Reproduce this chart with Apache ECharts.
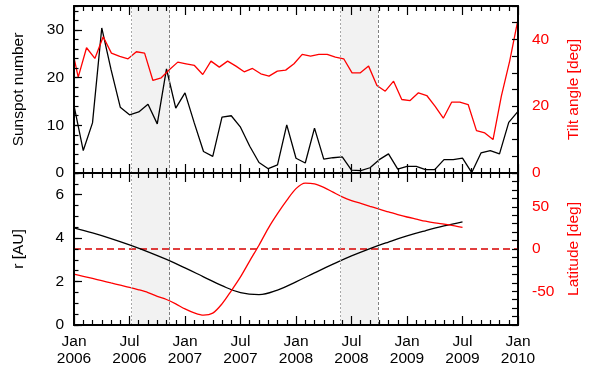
<!DOCTYPE html>
<html>
<head>
<meta charset="utf-8">
<script src="https://cdn.jsdelivr.net/npm/echarts@6/dist/echarts.min.js"></script>
<style>
  html, body { margin: 0; padding: 0; background: #ffffff; }
  #chart { width: 590px; height: 367px; }
</style>
</head>
<body>
<div id="chart"></div>
<script>
// ---- Data -------------------------------------------------------------
// Monthly sunspot number, Jan 2006 .. Jan 2010 (one value per month)
const sunspotStartYear = 2006;
const sunspot = [
  14.1, 4.7, 10.5, 30.4, 21.7, 13.8, 12.2, 12.8, 14.4, 10.3, 21.8, 13.6,
  16.8, 10.5, 4.5, 3.5, 11.7, 12.0, 9.6, 5.6, 2.2, 0.9, 1.7, 10.1,
  3.1, 2.1, 9.4, 2.9, 3.2, 3.4, 0.6, 0.5, 1.1, 2.8, 4.0, 0.8,
  1.4, 1.4, 0.7, 0.7, 2.8, 2.8, 3.1, 0.1, 4.2, 4.7, 4.0, 10.6,
  12.9
];

// Heliospheric current sheet tilt angle per Carrington rotation (decimal year, deg)
const tiltTime = [
  2005.964, 2006.038, 2006.113, 2006.188, 2006.263, 2006.337, 2006.412, 2006.487,
  2006.562, 2006.636, 2006.711, 2006.786, 2006.861, 2006.935, 2007.010, 2007.085,
  2007.160, 2007.234, 2007.309, 2007.384, 2007.459, 2007.533, 2007.608, 2007.683,
  2007.757, 2007.832, 2007.907, 2007.982, 2008.056, 2008.131, 2008.206, 2008.281,
  2008.355, 2008.430, 2008.505, 2008.580, 2008.654, 2008.729, 2008.804, 2008.879,
  2008.953, 2009.028, 2009.103, 2009.178, 2009.252, 2009.327, 2009.402, 2009.476,
  2009.551, 2009.626, 2009.701, 2009.775, 2009.850, 2009.925, 2010.000
];
const tiltDeg = [
  40.0, 28.7, 37.5, 34.3, 40.8, 35.9, 34.9, 34.2,
  36.3, 35.9, 27.7, 28.5, 31.0, 33.2, 32.7, 32.2,
  29.5, 33.5, 31.7, 33.5, 32.0, 30.3, 31.3, 29.7,
  29.0, 30.5, 30.8, 32.7, 35.5, 35.0, 35.5, 35.5,
  34.7, 34.2, 30.0, 30.0, 32.0, 26.2, 24.5, 27.5,
  22.0, 21.7, 24.0, 23.2, 20.0, 16.4, 21.2, 21.2,
  20.5, 12.7, 12.0, 10.0, 23.0, 33.5, 46.0
];

// Ulysses heliocentric distance, every second month from Jan 2006 (AU)
const rMonth = [0, 2, 4, 6, 8, 10, 12, 14, 16, 18, 20, 22, 24, 26, 28, 30, 32, 34, 36, 38, 40, 42];
const rAU = [4.47, 4.24, 3.98, 3.69, 3.37, 3.02, 2.63, 2.22, 1.81, 1.49, 1.40,
             1.61, 1.99, 2.40, 2.80, 3.18, 3.52, 3.82, 4.10, 4.34, 4.56, 4.75];

// Ulysses heliographic latitude, monthly from Jan 2006 (deg)
const latDeg = [
  -29.8, -32.3, -34.9, -37.5, -40.2, -42.8, -45.4, -48.3, -51.6, -56.0, -59.8, -65.0,
  -71.0, -75.7, -78.4, -76.0, -65.0, -49.5, -33.0, -14.0, 4.5, 24.5, 41.8, 57.5,
  71.5, 78.0, 77.0, 72.9, 67.3, 61.8, 57.4, 54.0, 50.5, 47.1, 44.0, 40.8,
  37.9, 35.4, 32.9, 30.9, 29.4, 27.7, 25.7
];

// Shaded intervals (decimal years)
const bands = [[2006.524, 2006.863], [2008.404, 2008.738]];

// ---- Helpers ------------------------------------------------------------
const FONT = '"Liberation Sans", Arial, Helvetica, sans-serif';
const FS = 15.5;
const RED = '#ff0000';
const monthX = (m) => sunspotStartYear + m / 12;

const frameLine = { show: true, onZero: false, lineStyle: { color: '#000', width: 2 } };

function xAxisFor(grid, position, labels) {
  return {
    type: 'value', gridIndex: grid, position: position,
    min: 2006, max: 2010, interval: 0.5, z: 10,
    axisLine: frameLine,
    axisTick: { show: true, inside: true, length: 9, lineStyle: { color: '#000', width: 1.2 } },
    minorTick: { show: true, splitNumber: 6, length: 5, lineStyle: { color: '#000', width: 1.2 } },
    splitLine: { show: false }, minorSplitLine: { show: false },
    axisLabel: labels ? {
      show: true, color: '#000', fontFamily: FONT, fontSize: FS, lineHeight: 17, margin: 8,
      formatter: (v) => {
        const yr = Math.floor(v + 1e-6);
        return ((v - yr) < 0.25 ? 'Jan' : 'Jul') + '\n' + yr;
      }
    } : { show: false }
  };
}

function yAxisFor(opt) {
  return Object.assign({
    type: 'value', z: 10,
    splitLine: { show: false },
    axisLine: { show: false },
  }, opt);
}

const bandAreas = bands.map(b => [{ xAxis: b[0] }, { xAxis: b[1] }]);
const bandEdges = [];
bands.forEach(b => {
  bandEdges.push({ xAxis: b[0], lineStyle: { color: '#a8a8a8', type: [2, 2], width: 1 } });
  bandEdges.push({ xAxis: b[1], lineStyle: { color: '#808080', type: [3, 2], width: 1 } });
});

function bandSeries(xi, yi) {
  return {
    type: 'line', xAxisIndex: xi, yAxisIndex: yi, data: [], silent: true, z: 1,
    markArea: { silent: true, itemStyle: { color: '#f2f2f2' }, data: bandAreas },
    markLine: { silent: true, symbol: 'none', label: { show: false }, data: bandEdges, animation: false }
  };
}

const zeroLineStyle = { color: '#d80000', type: [7, 4], width: 1.4 };

// ---- Chart --------------------------------------------------------------
const chart = echarts.init(document.getElementById('chart'), null, { renderer: 'canvas' });
chart.setOption({
  animation: false,
  backgroundColor: '#ffffff',
  textStyle: { fontFamily: FONT },
  grid: [
    { left: 74, right: 68, top: 6, height: 167 },
    { left: 74, right: 68, top: 173, height: 152 }
  ],
  xAxis: [
    xAxisFor(0, 'bottom', false),
    xAxisFor(0, 'top', false),
    xAxisFor(1, 'bottom', true),
    xAxisFor(1, 'top', false)
  ],
  yAxis: [
    // top panel, left: sunspot number
    yAxisFor({
      gridIndex: 0, position: 'left', min: 0, max: 35, interval: 10,
      axisLine: frameLine,
      axisTick: { show: true, inside: true, length: 8, lineStyle: { color: '#000', width: 1.2 } },
      axisLabel: { show: true, showMaxLabel: false, color: '#000', fontFamily: FONT, fontSize: FS, margin: 10 },
      name: 'Sunspot number', nameLocation: 'middle', nameGap: 47,
      nameTextStyle: { color: '#000', fontFamily: FONT, fontSize: FS }
    }),
    yAxisFor({
      gridIndex: 0, position: 'left', min: 0, max: 35, interval: 2,
      axisTick: { show: true, inside: true, length: 4.5, lineStyle: { color: '#000', width: 1.2 } },
      axisLabel: { show: false }
    }),
    // top panel, right: tilt angle
    yAxisFor({
      gridIndex: 0, position: 'right', min: 0, max: 50, interval: 5,
      axisLine: frameLine,
      axisTick: { show: true, inside: true, length: 6, lineStyle: { color: '#000', width: 1.2 } },
      axisLabel: {
        show: true, color: RED, fontFamily: FONT, fontSize: FS, margin: 14, align: 'left',
        formatter: (v) => (Math.abs(v % 20) < 1e-9 ? String(v) : '')
      },
      name: 'Tilt angle [deg]', nameLocation: 'middle', nameGap: 48,
      nameTextStyle: { color: RED, fontFamily: FONT, fontSize: FS }
    }),
    // bottom panel, left: distance
    yAxisFor({
      gridIndex: 1, position: 'left', min: 0, max: 7, interval: 2,
      axisLine: frameLine,
      axisTick: { show: true, inside: true, length: 8, lineStyle: { color: '#000', width: 1.2 } },
      axisLabel: { show: true, showMaxLabel: false, color: '#000', fontFamily: FONT, fontSize: FS, margin: 10 },
      name: 'r [AU]', nameLocation: 'middle', nameGap: 47,
      nameTextStyle: { color: '#000', fontFamily: FONT, fontSize: FS }
    }),
    yAxisFor({
      gridIndex: 1, position: 'left', min: 0, max: 7, interval: 0.5,
      axisTick: { show: true, inside: true, length: 4.5, lineStyle: { color: '#000', width: 1.2 } },
      axisLabel: { show: false }
    }),
    // bottom panel, right: latitude
    yAxisFor({
      gridIndex: 1, position: 'right', min: -90, max: 90, interval: 10,
      axisLine: frameLine,
      axisTick: { show: true, inside: true, length: 6, lineStyle: { color: '#000', width: 1.2 } },
      axisLabel: {
        show: true, color: RED, fontFamily: FONT, fontSize: FS, margin: 14, align: 'left',
        formatter: (v) => (Math.abs(v % 50) < 1e-9 ? String(v) : '')
      },
      name: 'Latitude [deg]', nameLocation: 'middle', nameGap: 48,
      nameTextStyle: { color: RED, fontFamily: FONT, fontSize: FS }
    })
  ],
  series: [
    bandSeries(0, 0),
    bandSeries(2, 3),
    {
      name: 'Sunspot number', type: 'line', xAxisIndex: 0, yAxisIndex: 0, z: 3,
      showSymbol: false, clip: true,
      lineStyle: { color: '#000', width: 1.3 },
      data: sunspot.map((v, i) => [monthX(i), v])
    },
    {
      name: 'Tilt angle', type: 'line', xAxisIndex: 0, yAxisIndex: 2, z: 4,
      showSymbol: false, clip: true,
      lineStyle: { color: RED, width: 1.3 },
      data: tiltTime.map((t, i) => [t, tiltDeg[i]])
    },
    {
      name: 'r', type: 'line', xAxisIndex: 2, yAxisIndex: 3, z: 3,
      showSymbol: false, smooth: 0.4,
      lineStyle: { color: '#000', width: 1.3 },
      data: rMonth.map((m, i) => [monthX(m), rAU[i]])
    },
    {
      name: 'Latitude', type: 'line', xAxisIndex: 2, yAxisIndex: 5, z: 4,
      showSymbol: false, smooth: 0.3,
      lineStyle: { color: RED, width: 1.3 },
      data: latDeg.map((v, i) => [monthX(i), v])
    },
    {
      // latitude zero reference
      name: 'Equator', type: 'line', xAxisIndex: 2, yAxisIndex: 5, z: 2,
      showSymbol: false, silent: true,
      lineStyle: zeroLineStyle,
      data: [[2006, 0], [2010, 0]]
    }
  ]
});
</script>
</body>
</html>
